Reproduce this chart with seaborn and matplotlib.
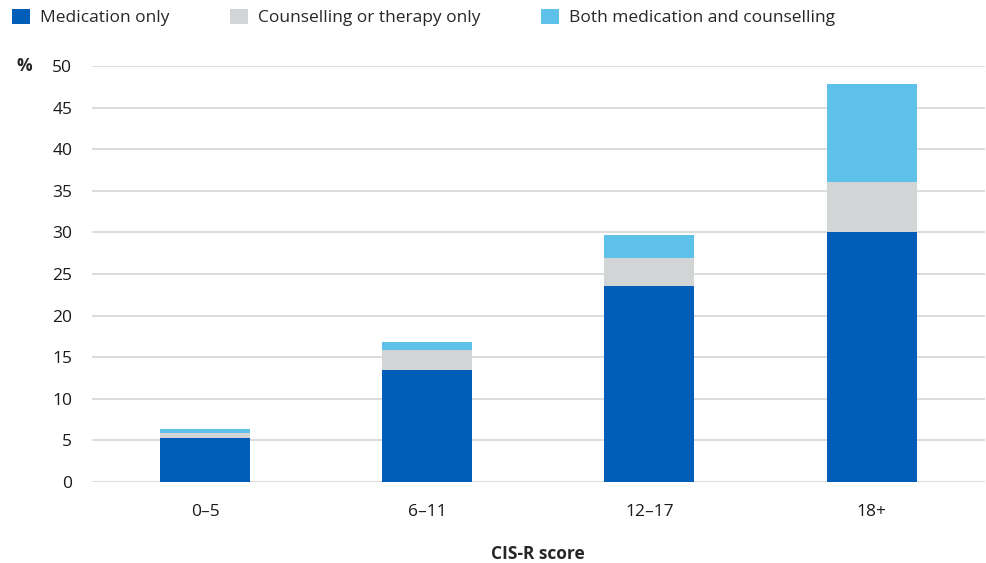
import matplotlib
matplotlib.use("Agg")
import numpy as np
import pandas as pd
import matplotlib.pyplot as plt
import seaborn as sns

# CIS-R score bands and treatment shares (%)
scores = ["0–5", "6–11", "12–17", "18+"]
medication_only = [5.3, 13.5, 23.6, 30.1]
counselling_only = [0.6, 2.4, 3.3, 6.0]
both_treatments = [0.4, 0.9, 2.8, 11.8]

series_names = ["Medication only", "Counselling or therapy only",
                "Both medication and counselling"]
colours = ["#005EB8", "#D1D5D6", "#5DC1EA"]

sns.set_style("white")
plt.rcParams["font.family"] = ["Open Sans", "DejaVu Sans"]

df = pd.DataFrame({
    "score": scores,
    "med": medication_only,
    "couns": counselling_only,
    "both": both_treatments,
})
# cumulative tops for stacking (draw tallest first)
df["top_both"] = df["med"] + df["couns"] + df["both"]
df["top_couns"] = df["med"] + df["couns"]
df["top_med"] = df["med"]

fig = plt.figure(figsize=(9.86, 5.63), dpi=100)
ax = fig.add_axes([0.093, 0.1444, 0.906, 0.7378])

for col, colour, name in zip(["top_both", "top_couns", "top_med"],
                             colours[::-1], series_names[::-1]):
    sns.barplot(data=df, x="score", y=col, color=colour, width=0.405,
                saturation=1, ax=ax, label=name, zorder=3, linewidth=0)

ax.set_ylim(0, 50)
ax.set_xlim(-0.51, 3.51)
ax.set_yticks(np.arange(0, 51, 5))
ax.yaxis.grid(True, color="#D9DCDD", linewidth=1.4, zorder=0)
ax.set_axisbelow(True)
for s in ax.spines.values():
    s.set_visible(False)
ax.tick_params(axis="both", length=0, labelsize=12.5, colors="#1a1a1a")
ax.tick_params(axis="y", pad=14)
ax.tick_params(axis="x", pad=16)
ax.set_ylabel("")
ax.set_xlabel("CIS-R score", fontsize=12.5, fontweight="bold", labelpad=18)

fig.text(0.017, 0.882, "%", fontsize=12.5, fontweight="bold", va="center")

handles, labels = ax.get_legend_handles_labels()
ax.get_legend().remove()
order = [labels.index(n) for n in series_names]
fig.legend([handles[i] for i in order], [labels[i] for i in order],
           loc="upper left", bbox_to_anchor=(0.0, 1.006), ncol=3, frameon=False,
           fontsize=12.5, handlelength=1.0, handleheight=1.0,
           handletextpad=0.6, columnspacing=3.5, borderaxespad=0.3)

fig.savefig("out.png", dpi=100)
